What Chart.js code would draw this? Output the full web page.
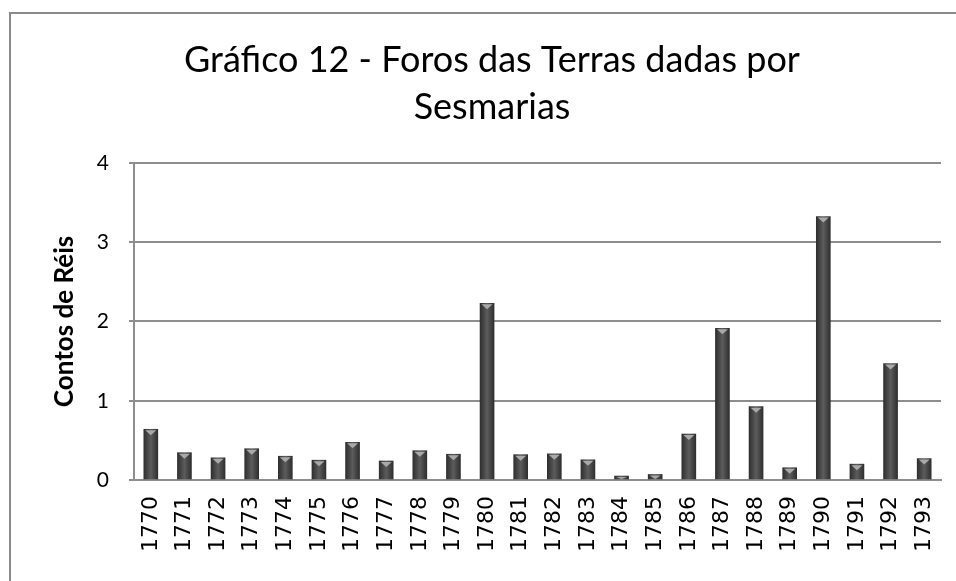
<!DOCTYPE html>
<html>
<head>
<meta charset="utf-8">
<script src="https://cdn.jsdelivr.net/npm/chart.js@4"></script>
<style>
  html, body { margin: 0; padding: 0; background: #fff; overflow: hidden; }
  #frame { position: absolute; left: 9px; top: 12px; width: 1000px; height: 1000px; border: 2px solid #8a8a8a; }
  #wrap { position: absolute; left: 0; top: 0; width: 956px; height: 581px; }
</style>
</head>
<body>
<div id="frame"></div>
<div id="wrap"><canvas id="c" width="956" height="581"></canvas></div>
<script>
// values (contos de réis)
const years = ["1770", "1771", "1772", "1773", "1774", "1775", "1776", "1777", "1778", "1779", "1780", "1781",
  "1782", "1783", "1784", "1785", "1786", "1787", "1788", "1789", "1790", "1791", "1792", "1793"];
const foros = [0.64, 0.345, 0.28, 0.395, 0.30, 0.25, 0.475, 0.24, 0.37, 0.325, 2.23, 0.32,
  0.33, 0.255, 0.05, 0.07, 0.58, 1.915, 0.925, 0.155, 3.325, 0.2, 1.47, 0.27];
const titleLines = ["Gráfico 12 - Foros das Terras dadas por", "Sesmarias"];
const yTitle = "Contos de Réis";
const yMin = 0, yMax = 4, yStep = 1;

const BAR_W = 14;
const gridCol = "#8e8e8e";

// bar shading: darker edges, lighter middle
function barFill(ctx) {
  const chart = ctx.chart, xs = chart.scales.x;
  if (!xs || ctx.type !== "data") return "#474747";
  const cx = xs.getPixelForValue(ctx.dataIndex);
  if (!isFinite(cx)) return "#474747";
  const g = chart.ctx.createLinearGradient(cx - BAR_W / 2, 0, cx + BAR_W / 2, 0);
  g.addColorStop(0, "#2f2f2f");
  g.addColorStop(0.5, "#5c5c5c");
  g.addColorStop(1, "#2f2f2f");
  return g;
}

// little light bevel triangle on top of every bar
const bevel = {
  id: "bevel",
  afterDatasetsDraw(chart) {
    const c = chart.ctx;
    chart.getDatasetMeta(0).data.forEach(b => {
      const h = b.base - b.y;
      const th = Math.min(5, h - 1);
      if (th <= 0) return;
      c.save();
      c.fillStyle = "#a9a9a9";
      c.beginPath();
      c.moveTo(b.x - b.width / 2 + 1.5, b.y + 1);
      c.lineTo(b.x + b.width / 2 - 1.5, b.y + 1);
      c.lineTo(b.x, b.y + 1 + th);
      c.closePath();
      c.fill();
      c.restore();
    });
  }
};

const chart = new Chart(document.getElementById("c"), {
  type: "bar",
  data: {
    labels: years,
    datasets: [{ data: foros, backgroundColor: barFill, borderWidth: 0, barThickness: BAR_W }]
  },
  options: {
    responsive: false,
    animation: false,
    layout: { padding: { left: 43, right: 15, top: 0, bottom: 0 } },
    plugins: {
      legend: { display: false },
      tooltip: { enabled: false },
      title: {
        display: true, text: titleLines, color: "#000",
        font: { family: "Lato", size: 36, weight: "normal", lineHeight: 1.305 },
        padding: { top: 37, bottom: 32 }
      }
    },
    scales: {
      x: {
        grid: { display: false },
        border: { display: true, color: gridCol, width: 2 },
        ticks: {
          color: "#000", minRotation: 90, maxRotation: 90, autoSkip: false, padding: 8,
          font: { family: "DejaVu Sans", size: 22 }
        },
        afterFit(s) { s.height = 101; s.paddingLeft = 0; s.paddingRight = 0; }
      },
      y: {
        min: yMin, max: yMax,
        grid: { color: gridCol, lineWidth: 2, drawTicks: true, tickLength: 5 },
        border: { display: true, color: gridCol, width: 2 },
        ticks: { stepSize: yStep, color: "#000", padding: 20, font: { family: "Lato", size: 21 } },
        title: {
          display: true, text: yTitle, color: "#000",
          font: { family: "Lato", size: 26, weight: "bold" },
          padding: { top: 6, bottom: 0 }
        },
        afterFit(s) { s.width = 91; }
      }
    }
  },
  plugins: [bevel]
});
chart.update("none");
</script>
</body>
</html>
